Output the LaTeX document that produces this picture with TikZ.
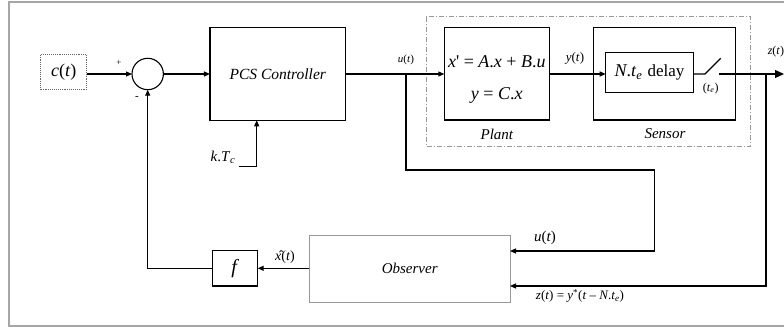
\documentclass[tikz,border=0pt]{standalone}
\usepackage{fontspec}
\setmainfont{Liberation Serif}
\usetikzlibrary{arrows.meta}
\newcommand\fsz[1]{\fontsize{#1}{#1}\selectfont}
\newcommand\vi[1]{\textit{#1}}
\begin{document}
\begin{tikzpicture}[x=1pt,y=-1pt,
  blk/.style={draw, line width=1.1pt, inner sep=0pt, outer sep=0pt, minimum width=#1},
  gblk/.style={draw=black!40, line width=1.1pt, inner sep=0pt, outer sep=0pt},
  wire/.style={line width=1.1pt},
  arr/.style={wire, -{Triangle[length=6pt,width=5pt]}},
  bigarr/.style={wire, -{Triangle[length=9pt,width=8pt]}},
  lbl/.style={inner sep=0pt, outer sep=0pt}]
\useasboundingbox (0,0) rectangle (784,331);
% frame
\draw[black!35, line width=1.4pt] (786,2) -- (9,2) -- (9,326) -- (786,326);
% dash-dot enclosure
\draw[black!40, line width=0.8pt, dash pattern=on 5pt off 2pt on 1pt off 2pt] (426,16.7) rectangle (750.7,146);
% nodes
\node[draw=black!60, densely dotted, line width=0.9pt, minimum width=46pt, minimum height=35pt, inner sep=0pt] (ct) at (63.7,72) {\fsz{18}\vi{c}(\vi{t})};
\node[draw, circle, line width=1.1pt, minimum size=31.4pt, inner sep=0pt, outer sep=0pt] (sum) at (147.7,74) {};
\node[blk=135.7pt, minimum height=93pt] (pcs) at (277.8,73.8) {\fsz{15.5}\vi{PCS Controller}};
\node[blk=105pt, minimum height=92.7pt] (plant) at (496.8,73.7) {};
\node[lbl] (eq1) at (496.8,62) {\fsz{18}\vi{x}\textquotesingle{} = \vi{A}.\vi{x} + \vi{B}.\vi{u}};
\node[lbl] (eq2) at (496.8,95) {\fsz{18}\vi{y} = \vi{C}.\vi{x}};
\node[blk=141.7pt, minimum height=92.7pt] (sensor) at (664.2,73.7) {};
\node[blk=87.6pt, minimum height=40.4pt] (delay) at (649.5,72.5) {\fsz{18}\vi{N}.\vi{t}\textsubscript{\vi{e}}\hspace{5pt}\fsz{17}delay};
\node[blk=45pt, minimum height=35.3pt] (f) at (235.2,268.3) {\fsz{20}\vi{f}};
\node[gblk, minimum width=200.7pt, minimum height=67.3pt] (obs) at (409.7,268.7) {\fsz{15}\vi{Observer}};
% labels
\node[lbl] (plus) at (119,63) {\fsz{9}+};
\node[lbl] (minus) at (137,98) {\fsz{11}-};
\node[lbl] (ulab) at (406,60) {\fsz{11}\vi{u}(\vi{t})};
\node[lbl] (ylab) at (575,58) {\fsz{13}\vi{y}(\vi{t})};
\node[lbl, anchor=east] (zlab) at (784,52) {\fsz{12}\vi{z}(\vi{t})};
\node[lbl] (telab) at (710.7,88.3) {\fsz{12}(\vi{t}\textsubscript{\vi{e}})};
\node[lbl] (plantlab) at (497,134) {\fsz{15}\vi{Plant}};
\node[lbl] (sensorlab) at (665,134) {\fsz{15}\vi{Sensor}};
\node[lbl] (ktlab) at (223,157) {\fsz{15}\vi{k}.\vi{T}\textsubscript{\vi{c}}};
\node[lbl] (xhlab) at (285,256.7) {\fsz{14}\^{\vi{x}}(\vi{t})};
\node[lbl] (uolab) at (545,238.3) {\fsz{15}\vi{u}(\vi{t})};
\node[lbl] (zolab) at (580,296) {\fsz{13}\vi{z}(\vi{t}) = \vi{y}\textsuperscript{*}(\vi{t} – \vi{N}.\vi{t}\textsubscript{\vi{e}})};
% coordinates
\coordinate (ub) at (406,74);
\coordinate (ur) at (654.3,170);
\coordinate (uin) at (510,251);
\coordinate (zb) at (766,74);
\coordinate (zin) at (510,286);
\coordinate (sw1) at (705,74);
\coordinate (sw2) at (720.7,58.3);
\coordinate (sw3) at (719.3,74);
\coordinate (zend) at (784,74);
\coordinate (kt) at (238.7,166.7);
\coordinate (kin) at (256.7,120.3);
% connectors
\draw[arr] (ct.east |- sum.west) -- (sum.west);
\draw[arr] (sum.east) -- (pcs.west |- sum.east);
\draw[arr] (pcs.east |- ub) -- (plant.west |- ub);
\draw[arr] (ub) |- (ur) |- (uin);
\draw[arr] (plant.east |- ub) -- (delay.west |- ub);
\draw[wire] (delay.east |- ub) -- (sw1) -- (sw2);
\draw[bigarr] (sw3) -- (zend);
\draw[arr] (zb) |- (zin);
\draw[arr] (obs.west |- f.east) -- (f.east);
\draw[arr] (f.west) -| (sum.south);
\draw[arr] (kt) -| (kin);
\end{tikzpicture}
\end{document}
